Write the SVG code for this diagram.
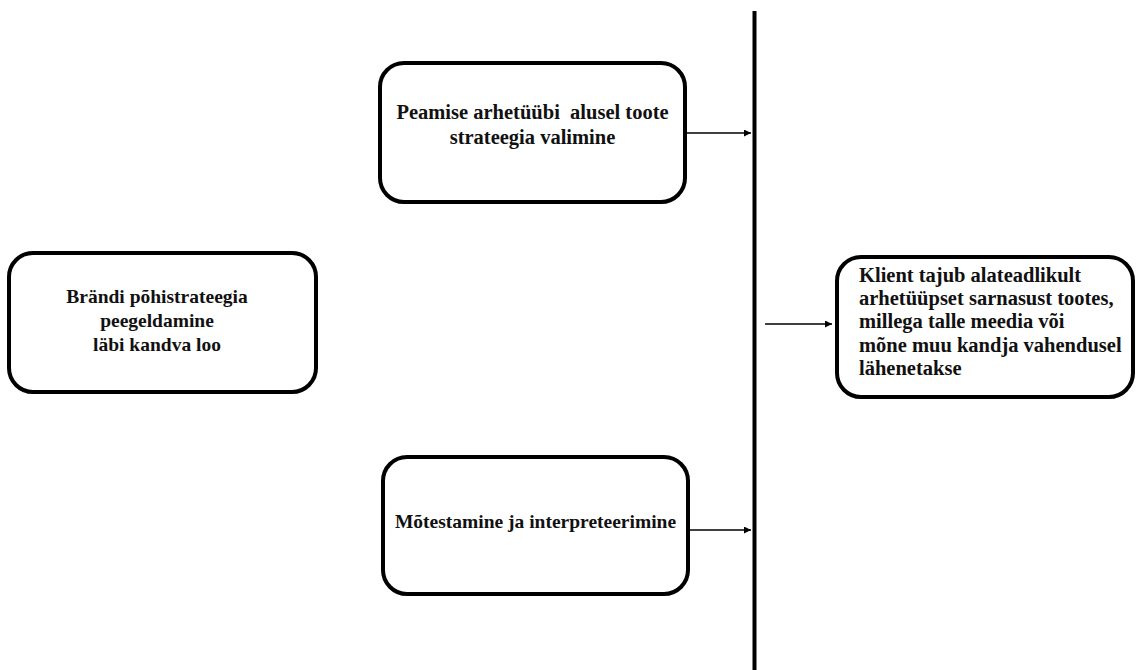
<svg xmlns="http://www.w3.org/2000/svg" width="1136" height="670" viewBox="0 0 1136 670">
  <style>
    .box { fill: #ffffff; stroke: #000000; stroke-width: 4; }
    .lbl { font-family: "Liberation Serif", "Times New Roman", serif; font-weight: bold; font-size: 19.5px; fill: #111111; }
    .big { font-size: 20.5px; }
    .mid { text-anchor: middle; }
    .conn { stroke: #000000; stroke-width: 1.3; fill: none; marker-end: url(#arrow); }
  </style>
  <defs>
    <marker id="arrow" viewBox="0 0 10 10" refX="10" refY="5" markerUnits="userSpaceOnUse" markerWidth="9" markerHeight="7" orient="auto">
      <path d="M0,0 L10,5 L0,10 z" fill="#000000"/>
    </marker>
  </defs>

  <rect width="1136" height="670" fill="#ffffff"/>

  <!-- dividing line -->
  <line x1="754.5" y1="11" x2="754.5" y2="670" stroke="#000000" stroke-width="4"/>

  <g id="connectors">
    <line class="conn" x1="687" y1="133" x2="751" y2="133"/>
    <line class="conn" x1="690" y1="530" x2="751" y2="530"/>
    <line class="conn" x1="765" y1="324" x2="832" y2="324"/>
  </g>

  <g id="node-brand">
    <rect class="box" x="9" y="253" width="307" height="139" rx="24"/>
    <text class="lbl mid" x="157" y="303">Brändi põhistrateegia</text>
    <text class="lbl mid" x="157" y="327">peegeldamine</text>
    <text class="lbl mid" x="157" y="351">läbi kandva loo</text>
  </g>

  <g id="node-archetype">
    <rect class="box" x="380" y="63" width="305" height="139" rx="24"/>
    <text class="lbl big mid" x="532.5" y="119" xml:space="preserve">Peamise arhetüübi  alusel toote</text>
    <text class="lbl big mid" x="532.5" y="144">strateegia valimine</text>
  </g>

  <g id="node-interpret">
    <rect class="box" x="383" y="457" width="305" height="137" rx="24"/>
    <text class="lbl mid" x="535.5" y="528">Mõtestamine ja interpreteerimine</text>
  </g>

  <g id="node-client">
    <rect class="box" x="837" y="257" width="296" height="140" rx="24"/>
    <text class="lbl big" x="859" y="282">Klient tajub alateadlikult</text>
    <text class="lbl big" x="859" y="305">arhetüüpset sarnasust tootes,</text>
    <text class="lbl big" x="859" y="328">millega talle meedia või</text>
    <text class="lbl big" x="859" y="352">mõne muu kandja vahendusel</text>
    <text class="lbl big" x="859" y="375">lähenetakse</text>
  </g>
</svg>
